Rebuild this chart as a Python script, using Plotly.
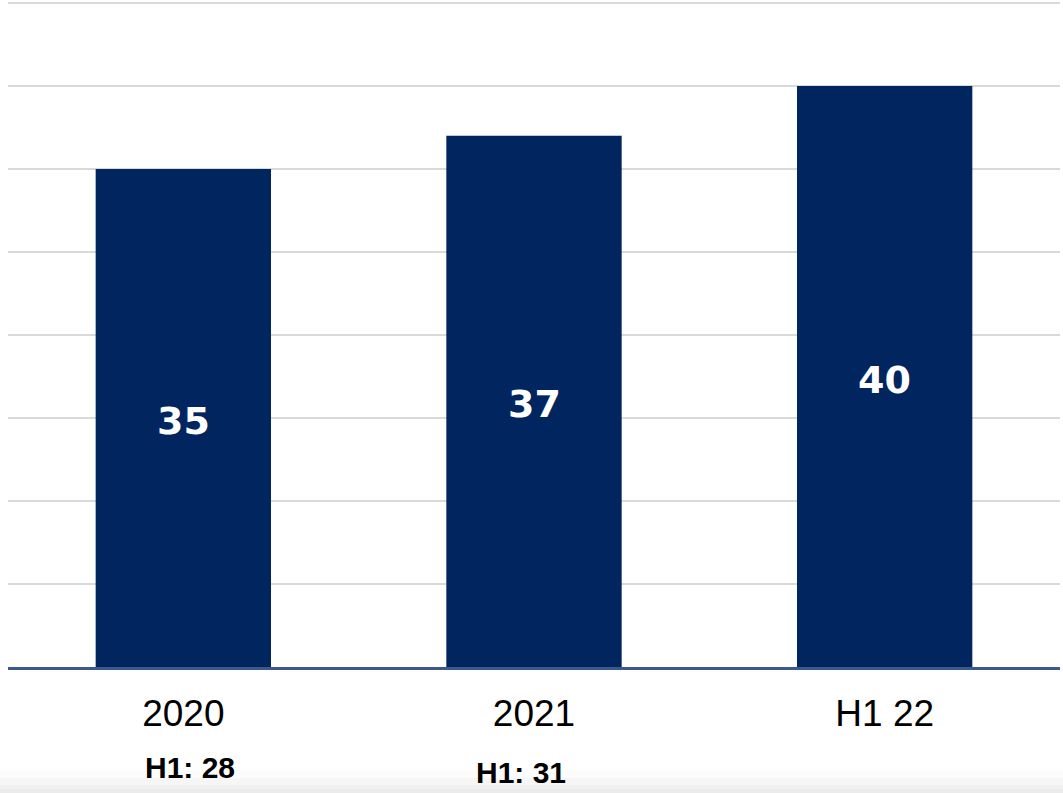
import plotly.graph_objects as go

categories = ["2020", "2021", "H1 22"]
values = [35, 37, 40]
h1_labels = ["H1: 28", "H1: 31"]
h1_categories = ["2020", "2021"]

axis_min, axis_step, n_grid = 5, 5, 8
bar_color = "#00255F"
font_family = "Liberation Sans, Arial, sans-serif"
label_family = "DejaVu Sans, Liberation Sans, Arial, sans-serif"

W, H = 1063, 793
PLOT_TOP, PLOT_BOTTOM = 1, 667
px_per_unit = 664 / 40  # 8 gridline intervals of 5 between y=3 and y=667
plot_h = PLOT_BOTTOM - PLOT_TOP
axis_max = axis_min + plot_h / px_per_unit

idx = list(range(len(categories)))

fig = go.Figure()
fig.add_trace(go.Bar(
    x=idx, y=values, marker=dict(color=bar_color, line=dict(width=0)),
    width=0.5, hovertext=categories, hoverinfo="text+y", showlegend=False,
))

# value labels centered in visible part of bars
for i, v in zip(idx, values):
    fig.add_annotation(x=i, y=(axis_min + v) / 2, text=f"<b>{v}</b>", showarrow=False,
                       font=dict(family=label_family, size=38, color="white"),
                       xanchor="center", yanchor="middle", yshift=-3)

# H1 annotations below axis
shifts = [(7, 767.5), (-13, 772.5)]
for c, t, (xs, ypx) in zip(h1_categories, h1_labels, shifts):
    fig.add_annotation(x=categories.index(c), xref="x", y=(PLOT_BOTTOM - ypx) / plot_h, yref="paper",
                       text=f"<b>{t}</b>", showarrow=False,
                       font=dict(family=font_family, size=30, color="black"),
                       xanchor="center", yanchor="middle", xshift=xs)

# bottom faint shading
shades = [(770, 778, "#fcfcfc"), (778, 785, "#f6f6f6"), (785, 789, "#f0f0f0"), (789, 794, "#ebebeb")]
for y0, y1, col in shades:
    fig.add_shape(type="rect", xref="paper", yref="paper", x0=-0.02, x1=1.02,
                  y0=(PLOT_BOTTOM - y1) / plot_h, y1=(PLOT_BOTTOM - y0) / plot_h,
                  fillcolor=col, line=dict(width=0), layer="below")

fig.update_layout(
    width=W, height=H,
    margin=dict(l=8, r=3, t=PLOT_TOP, b=H - PLOT_BOTTOM, autoexpand=False),
    paper_bgcolor="white", plot_bgcolor="white",
    font=dict(family=font_family, color="black"),
    xaxis=dict(
        range=[-0.5, len(categories) - 0.5], tickmode="array", tickvals=idx, ticktext=categories,
        showgrid=False, showline=True, linecolor="#3A5A8C", linewidth=3,
        ticks="", tickfont=dict(size=37, family=font_family, color="black"),
        ticklabelstandoff=12, zeroline=False, fixedrange=True,
    ),
    yaxis=dict(
        range=[axis_min, axis_max],
        tickvals=[axis_min + axis_step * k for k in range(1, n_grid + 1)],
        showticklabels=False, showgrid=True, gridcolor="#D9D9D9", gridwidth=2,
        zeroline=False, showline=False, fixedrange=True,
    ),
)

fig.write_html("out.html", config={"displayModeBar": False},
               post_script="document.body.style.margin='0px';")
